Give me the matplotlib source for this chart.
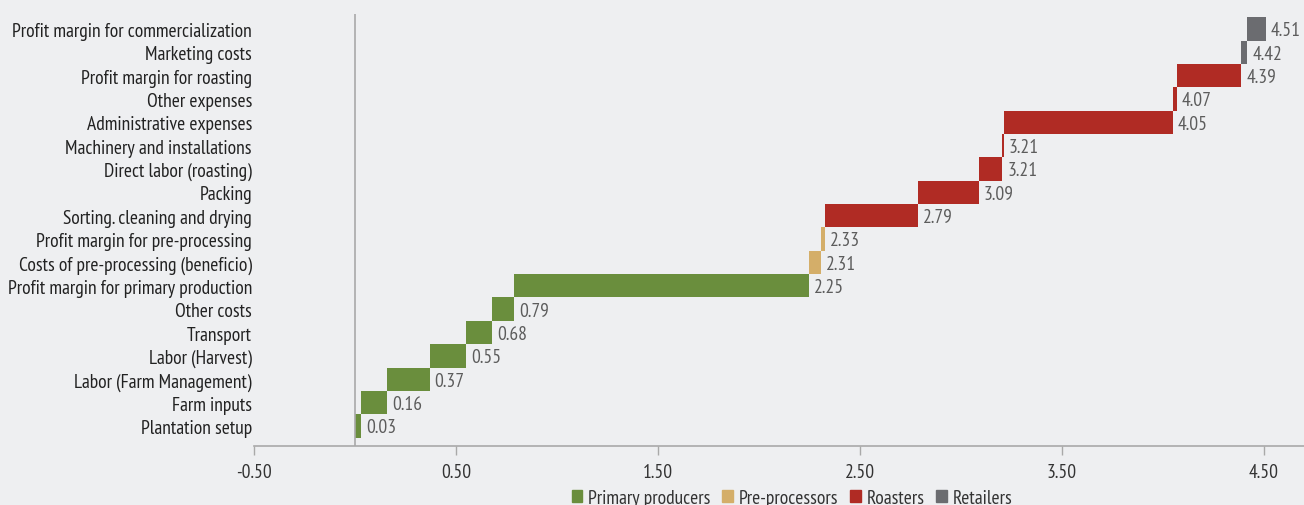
import numpy as np
import matplotlib.pyplot as plt
from matplotlib.patches import Patch

plt.rcParams['font.family'] = ['PT Sans Narrow', 'DejaVu Sans']

categories = ['Plantation setup', 'Farm inputs', 'Labor (Farm Management)', 'Labor (Harvest)',
              'Transport', 'Other costs', 'Profit margin for primary production',
              'Costs of pre-processing (beneficio)', 'Profit margin for pre-processing',
              'Sorting. cleaning and drying', 'Packing', 'Direct labor (roasting)',
              'Machinery and installations', 'Administrative expenses', 'Other expenses',
              'Profit margin for roasting', 'Marketing costs', 'Profit margin for commercialization']
# cumulative value at the end of each step
ends = [0.03, 0.16, 0.37, 0.55, 0.68, 0.79, 2.25, 2.31, 2.33, 2.79, 3.09, 3.206, 3.214,
        4.05, 4.07, 4.39, 4.42, 4.51]
stage = ['Primary producers'] * 7 + ['Pre-processors'] * 2 + ['Roasters'] * 7 + ['Retailers'] * 2

stage_names = ['Primary producers', 'Pre-processors', 'Roasters', 'Retailers']
stage_colors = {'Primary producers': '#6a8e3d', 'Pre-processors': '#d4ae69',
                'Roasters': '#b02b24', 'Retailers': '#6b6c70'}

starts = [0] + ends[:-1]
widths = np.array(ends) - np.array(starts)
y = np.arange(len(categories))

bg = '#eeeff1'
fig = plt.figure(figsize=(13.04, 5.06), dpi=100, facecolor=bg)
ax = fig.add_axes([254 / 1304, 1 - 447 / 506, 1 - 254 / 1304, (447 - 15) / 506])
ax.set_facecolor(bg)

ax.barh(y, widths, left=starts, height=1.0, color=[stage_colors[s] for s in stage])
for i in range(len(categories)):
    ax.annotate('%.2f' % ends[i], (ends[i], y[i]), xytext=(3.5, -1), textcoords='offset points',
                va='center', ha='left', fontsize=14, color='#5c5c5c')

ax.axvline(0, color='#a9a9a9', lw=1.2)

ax.set_xlim(-0.5, 4.70)
ax.set_ylim(-0.86, 17.64)
ax.set_xticks([-0.5, 0.5, 1.5, 2.5, 3.5, 4.5])
ax.set_xticklabels(['%.2f' % t for t in [-0.5, 0.5, 1.5, 2.5, 3.5, 4.5]])
ax.set_yticks(y)
ax.set_yticklabels(categories)
ax.tick_params(axis='y', length=0, pad=1.5, labelsize=14, labelcolor='#222222')
ax.tick_params(axis='x', length=6.5, width=1, color='#a9a9a9', pad=6, labelsize=14, labelcolor='#333333')
for s in ['top', 'right', 'left']:
    ax.spines[s].set_visible(False)
ax.spines['bottom'].set_color('#a9a9a9')
ax.spines['bottom'].set_linewidth(1.2)

handles = [Patch(color=stage_colors[n], label=n) for n in stage_names]
fig.legend(handles=handles, loc='center', bbox_to_anchor=(792 / 1304, 7 / 506), ncol=4,
           frameon=False, fontsize=14, handlelength=0.55, handleheight=0.55,
           handletextpad=0.3, columnspacing=0.6, borderpad=0, labelcolor='#333333')

fig.savefig('out.png', dpi=100, facecolor=bg)
